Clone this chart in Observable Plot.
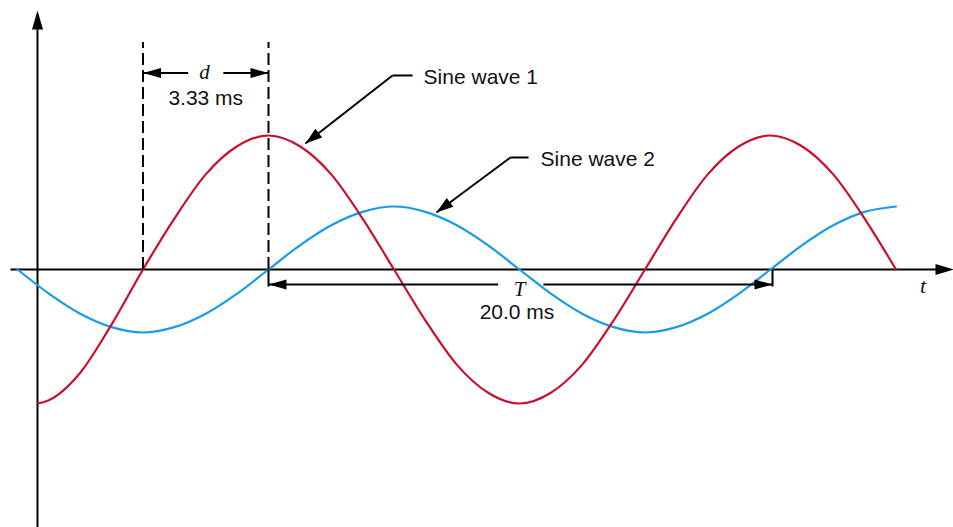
<!DOCTYPE html>
<html><head><meta charset="utf-8">
<script src="https://cdn.jsdelivr.net/npm/d3@7"></script>
<script src="https://cdn.jsdelivr.net/npm/@observablehq/plot@0.6"></script>
<style>html,body{margin:0;padding:0;background:#fff;} #chart svg{display:block}</style>
</head><body><div id="chart"></div>
<script>
// ---- data (time in ms, amplitude relative to sine wave 1) ----
const wave1Time = [0.8, 1.25, 2.5, 3.75, 5, 6.25, 7.5, 8.75, 10, 11.25, 12.5, 13.75, 15, 16.25, 17.5, 18.75, 20, 21.25, 22.5, 23.75, 25, 26.25, 27.5, 28.75, 30, 31.25, 32.5, 33.75, 35];
const wave1 = [-1.0, -0.975, -0.77, -0.41, 0, 0.38, 0.71, 0.92, 1, 0.92, 0.71, 0.38, 0, -0.38, -0.71, -0.92, -1, -0.92, -0.71, -0.38, 0, 0.38, 0.71, 0.92, 1, 0.92, 0.71, 0.38, 0];
const wave2Time = [0, 1.25, 2.5, 3.75, 5, 6.25, 7.5, 8.75, 10, 11.25, 12.5, 13.75, 15, 16.25, 17.5, 18.75, 20, 21.25, 22.5, 23.75, 25, 26.25, 27.5, 28.75, 30, 31.25, 32.5, 33.75, 35];
const wave2 = [0, -0.18, -0.33, -0.43, -0.47, -0.43, -0.33, -0.18, 0, 0.18, 0.33, 0.43, 0.47, 0.43, 0.33, 0.18, 0, -0.18, -0.33, -0.43, -0.47, -0.43, -0.33, -0.18, 0, 0.18, 0.33, 0.43, 0.47];
const seriesNames = ["Sine wave 1", "Sine wave 2"];
const delayStart = 5, delayEnd = 10;       // ms, between zero crossings
const periodStart = 10, periodEnd = 30.08; // ms
const delayLabel = "3.33 ms";
const periodLabel = "20.0 ms";
const axisLabel = "t";

// ---- layout ----
const W = 953, H = 527;
const xDomain = [-0.6773, 37.291];
const yDomain = [-1.9254, 2.0075];
const kx = W / (xDomain[1] - xDomain[0]);
const ky = H / (yDomain[1] - yDomain[0]);
const red = "#c8102e", blue = "#1a9be6", ink = "#000";

const s1 = wave1Time.map((t, i) => ({t, v: wave1[i]}));
const s2 = wave2Time.map((t, i) => ({t, v: wave2[i]}));

function headSymbol(L, Wd, ang) {
  const c = Math.cos(ang), s = Math.sin(ang);
  const pts = [[0, 0], [-L, -Wd / 2], [-L, Wd / 2]].map(([px, py]) => [px * c - py * s, px * s + py * c]);
  return {draw(ctx) { ctx.moveTo(pts[0][0], pts[0][1]); ctx.lineTo(pts[1][0], pts[1][1]); ctx.lineTo(pts[2][0], pts[2][1]); ctx.closePath(); }};
}
function head(tip, from, L = 18, Wd = 10) {
  const dx = kx * (tip[0] - from[0]);
  const dy = -ky * (tip[1] - from[1]);
  const ang = Math.atan2(dy, dx);
  return Plot.dot([{x: tip[0], y: tip[1]}], {x: "x", y: "y", symbol: headSymbol(L, Wd, ang), fill: ink, stroke: "none"});
}

const yAxisX = 0.797;
const dY = 1.466, TY = -0.112;
const c1 = {tip: [11.47, 0.94], elbow: [14.94, 1.448], end: [15.74, 1.448], label: [16.18, 1.436]};
const c2 = {tip: [16.69, 0.425], elbow: [19.64, 0.836], end: [20.36, 0.836], label: [20.84, 0.819]};

const segs = [
  {x1: -0.28, y1: 0, x2: 37.0, y2: 0},
  {x1: yAxisX, y1: yDomain[0], x2: yAxisX, y2: 1.8},
  {x1: delayStart, y1: dY, x2: 6.8, y2: dY},
  {x1: 8.2, y1: dY, x2: delayEnd, y2: dY},
  {x1: periodStart, y1: TY, x2: 19.15, y2: TY},
  {x1: 20.95, y1: TY, x2: periodEnd, y2: TY},
  {x1: periodStart, y1: 0, x2: periodStart, y2: -0.127},
  {x1: periodEnd, y1: 0, x2: periodEnd, y2: -0.127},
  {x1: c1.end[0], y1: c1.end[1], x2: c1.elbow[0], y2: c1.elbow[1]},
  {x1: c1.elbow[0], y1: c1.elbow[1], x2: c1.tip[0], y2: c1.tip[1]},
  {x1: c2.end[0], y1: c2.end[1], x2: c2.elbow[0], y2: c2.elbow[1]},
  {x1: c2.elbow[0], y1: c2.elbow[1], x2: c2.tip[0], y2: c2.tip[1]}
];

const sans = "'Liberation Sans', Arial, sans-serif";
const serif = "'Liberation Serif', 'Times New Roman', serif";

const chart = Plot.plot({
  width: W, height: H,
  marginTop: 0, marginRight: 0, marginBottom: 0, marginLeft: 0,
  x: {domain: xDomain, axis: null},
  y: {domain: yDomain, axis: null},
  style: {background: "#fff", overflow: "visible"},
  marks: [
    Plot.link(segs.slice(0, 2), {x1: "x1", y1: "y1", x2: "x2", y2: "y2", stroke: ink, strokeWidth: 2}),
    head([37.291, 0], [0, 0], 18, 11),
    head([yAxisX, 1.933], [yAxisX, 0], 19, 11),
    Plot.line(s2, {x: "t", y: "v", stroke: blue, strokeWidth: 2.2, curve: "monotone-x"}),
    Plot.line(s1, {x: "t", y: "v", stroke: red, strokeWidth: 2.2, curve: "monotone-x"}),
    Plot.ruleX([delayStart, delayEnd], {x: d => d, y1: 0, y2: 1.694, stroke: ink, strokeWidth: 2, strokeDasharray: "12,5"}),
    Plot.link(segs.slice(2), {x1: "x1", y1: "y1", x2: "x2", y2: "y2", stroke: ink, strokeWidth: 2}),
    head([delayStart, dY], [delayEnd, dY]),
    head([delayEnd, dY], [delayStart, dY]),
    head([periodStart, TY], [periodEnd, TY]),
    head([periodEnd, TY], [periodStart, TY]),
    head(c1.tip, c1.elbow, 17, 11),
    head(c2.tip, c2.elbow, 17, 11),
    Plot.text([seriesNames[0]], {x: c1.label[0], y: c1.label[1], text: d => d, textAnchor: "start", fontSize: 21, fontFamily: sans, fill: "#111"}),
    Plot.text([seriesNames[1]], {x: c2.label[0], y: c2.label[1], text: d => d, textAnchor: "start", fontSize: 21, fontFamily: sans, fill: "#111"}),
    Plot.text([delayLabel], {x: (delayStart + delayEnd) / 2, y: 1.281, text: d => d, fontSize: 21, fontFamily: sans, fill: "#111"}),
    Plot.text([periodLabel], {x: 19.9, y: -0.316, text: d => d, fontSize: 21, fontFamily: sans, fill: "#111"}),
    Plot.text(["d"], {x: 7.45, y: dY + 0.005, text: d => d, fontSize: 21, fontFamily: serif, fontStyle: "italic", fill: "#111"}),
    Plot.text(["T"], {x: 20.0, y: -0.146, text: d => d, fontSize: 21, fontFamily: serif, fontStyle: "italic", fill: "#111"}),
    Plot.text([axisLabel], {x: 36.08, y: -0.124, text: d => d, fontSize: 22, fontFamily: serif, fontStyle: "italic", fill: "#111"})
  ]
});
document.getElementById("chart").appendChild(chart);
</script>
</body></html>
